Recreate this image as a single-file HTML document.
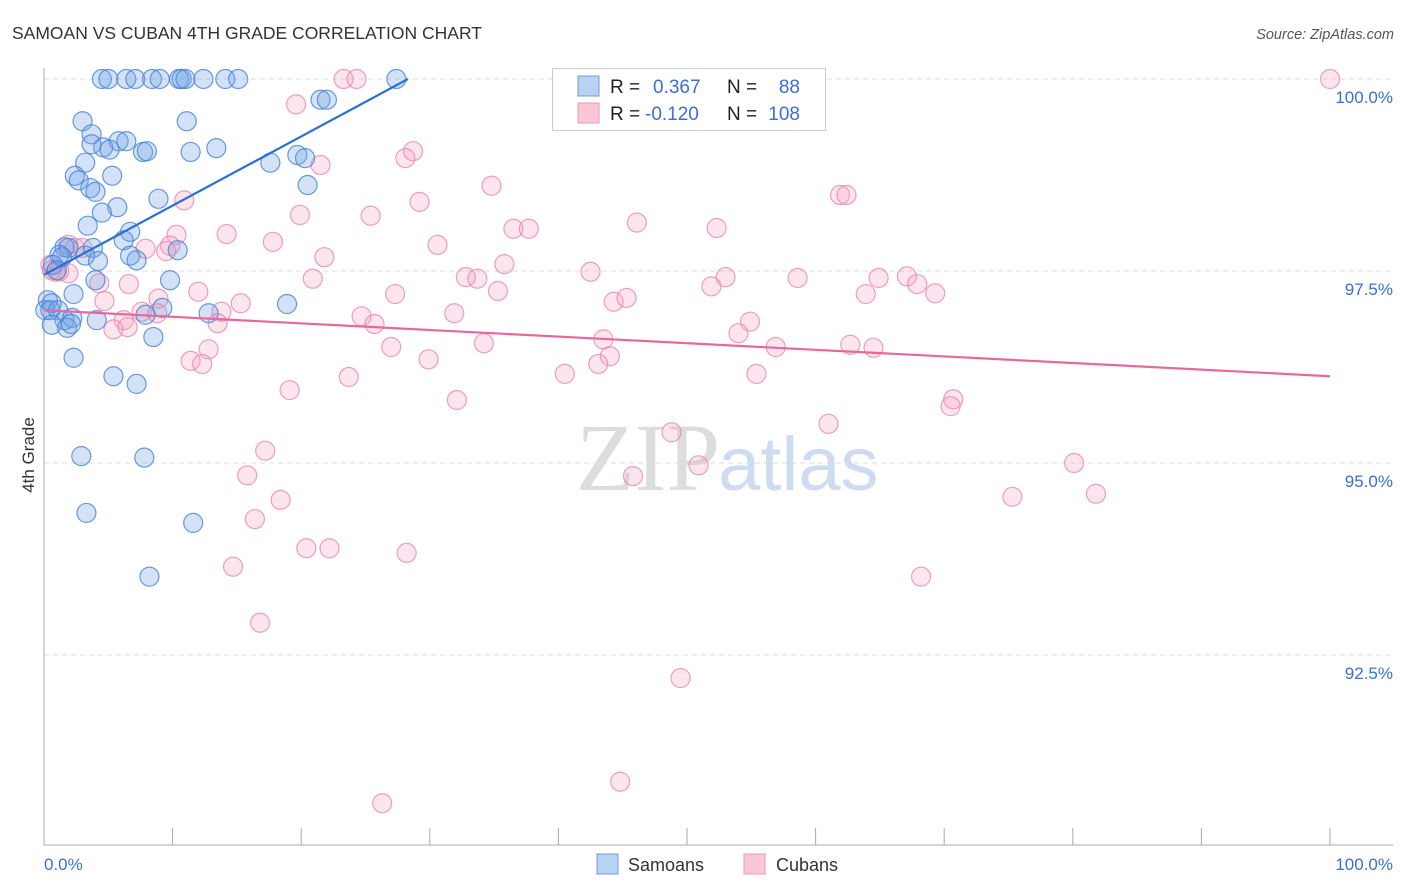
<!DOCTYPE html>
<html><head><meta charset="utf-8"><style>
body{margin:0;background:#fff;font-family:"Liberation Sans",sans-serif;}
svg{display:block}
</style></head><body>
<svg id="chart" width="1406" height="892" xmlns="http://www.w3.org/2000/svg">
<text x="12" y="39" font-size="17.5" fill="#333">SAMOAN VS CUBAN 4TH GRADE CORRELATION CHART</text>
<text x="1394" y="39" font-size="14.5" fill="#555" font-style="italic" text-anchor="end">Source: ZipAtlas.com</text>
<text x="720" y="490" font-size="96" fill="#ddd" text-anchor="end" font-family="Liberation Serif,serif">ZIP</text>
<text x="718" y="490" font-size="76" fill="#cfdcf0">atlas</text>
<g id="grid"></g>
<g id="axes"></g>
<g id="marks"></g>
<text transform="translate(34,455) rotate(-90)" font-size="17" fill="#333" text-anchor="middle">4th Grade</text>
<g>
<rect x="552.5" y="68.5" width="273" height="62" fill="#fff" stroke="#ccc"/>
<rect x="578" y="76" width="21" height="20" fill="#b9d2f3" stroke="#6f9be0"/>
<rect x="578" y="103" width="21" height="20" fill="#fbc6d5" stroke="#ec9ab4"/>
<text x="610" y="93" font-size="19" fill="#222">R =</text><text x="653" y="93" font-size="19" fill="#3b6fd4">0.367</text>
<text x="727" y="93" font-size="19" fill="#222">N =</text><text x="800" y="93" font-size="19" fill="#3b6fd4" text-anchor="end">88</text>
<text x="610" y="120" font-size="19" fill="#222">R =</text><text x="645" y="120" font-size="19" fill="#3b6fd4">-0.120</text>
<text x="727" y="120" font-size="19" fill="#222">N =</text><text x="800" y="120" font-size="19" fill="#3b6fd4" text-anchor="end">108</text>
</g>
<g>
<rect x="597" y="854" width="21" height="20" fill="#b9d2f3" stroke="#6f9be0"/>
<text x="628" y="871" font-size="18" fill="#333">Samoans</text>
<rect x="744" y="854" width="21" height="20" fill="#fbc6d5" stroke="#ec9ab4"/>
<text x="776" y="871" font-size="18" fill="#333">Cubans</text>
</g>
</svg>
<script>
const yTicks=[100,97.5,95,92.5];
const yTickLabels=["100.0%","97.5%","95.0%","92.5%"];
const xEndLabels=["0.0%","100.0%"];
const blueX=[4.5,5.0,6.4,7.1,8.4,9.0,10.5,10.7,11.0,12.4,14.1,15.1,27.4,21.5,22.0,3.0,11.1,3.7,5.8,6.4,4.6,5.1,3.7,7.7,8.0,11.4,13.4,19.7,20.3,17.6,3.2,2.4,2.7,5.3,3.6,4.0,20.5,8.9,5.7,4.5,3.4,6.7,6.2,1.6,1.9,3.8,10.4,1.2,1.4,3.2,4.2,6.7,7.2,0.7,1.0,9.8,4.0,2.3,0.3,0.6,18.9,0.1,0.5,1.1,1.6,2.2,4.1,9.2,7.9,12.8,0.6,1.8,2.1,8.5,2.3,5.4,7.2,2.9,7.8,3.3,11.6,8.2];
const blueY=[100,100,100,100,100,100,100,100,100,100,100,100,100,99.73,99.73,99.45,99.45,99.28,99.19,99.19,99.11,99.08,99.15,99.05,99.06,99.05,99.10,99.01,98.97,98.91,98.91,98.74,98.68,98.74,98.58,98.53,98.62,98.44,98.33,98.26,98.09,98.01,97.90,97.81,97.80,97.80,97.77,97.71,97.68,97.70,97.63,97.70,97.64,97.58,97.51,97.38,97.38,97.20,97.12,97.08,97.07,96.99,96.99,96.99,96.86,96.89,96.86,97.02,96.93,96.95,96.80,96.76,96.81,96.64,96.37,96.13,96.03,95.09,95.07,94.35,94.22,93.52];
const pinkX=[100,23.3,24.3,19.6,28.7,28.1,21.5,34.8,29.2,61.9,62.4,10.9,19.9,25.4,46.1,36.5,37.7,52.3,14.2,10.3,17.8,30.6,9.8,7.9,1.9,2.4,3.0,9.5,21.8,35.8,0.5,0.6,1.9,0.9,1.2,42.5,32.8,33.7,20.9,58.6,64.9,67.1,67.9,51.9,53.0,4.3,6.6,35.3,12.0,27.3,4.7,15.3,63.9,69.3,44.3,45.3,8.9,31.9,7.6,8.8,13.8,24.7,13.5,25.7,6.2,5.4,6.5,54.9,54.0,43.5,34.2,27.0,56.9,62.7,64.5,12.8,44.0,29.9,43.1,11.4,12.3,23.7,40.5,55.4,19.1,32.1,70.7,70.5,61.0,48.8,17.2,50.9,80.1,45.8,15.8,18.4,75.3,81.8,16.4,20.4,22.2,28.2,14.7,68.2,16.8,49.5,44.8,26.3];
const pinkY=[100,100,100,99.67,99.06,98.97,98.88,98.61,98.40,98.49,98.49,98.42,98.23,98.22,98.13,98.05,98.05,98.06,97.98,97.97,97.88,97.84,97.83,97.79,97.84,97.80,97.80,97.76,97.68,97.59,97.58,97.51,97.47,97.49,97.50,97.49,97.42,97.40,97.40,97.41,97.41,97.43,97.33,97.30,97.42,97.34,97.33,97.24,97.23,97.20,97.11,97.08,97.20,97.21,97.10,97.15,97.14,96.95,96.97,96.95,96.97,96.91,96.82,96.81,96.86,96.74,96.77,96.84,96.69,96.61,96.56,96.51,96.51,96.54,96.50,96.48,96.39,96.35,96.29,96.33,96.29,96.12,96.16,96.16,95.95,95.82,95.83,95.74,95.51,95.40,95.16,94.97,95.00,94.83,94.84,94.52,94.56,94.60,94.27,93.89,93.89,93.83,93.65,93.52,92.92,92.20,90.85,90.57];
const blueTrend=[[0,97.45],[28.3,100]];
const pinkTrend=[[0,96.99],[100,96.13]];

const NS="http://www.w3.org/2000/svg";
const X0=44,X1=1330,YTOP=79,PXPER=76.8;
const sx=v=>X0+(X1-X0)*v/100;
const sy=v=>YTOP+(100-v)*PXPER;
function mk(tag,attrs,parent){const e=document.createElementNS(NS,tag);for(const k in attrs)e.setAttribute(k,attrs[k]);parent.appendChild(e);return e;}
const grid=document.getElementById('grid'),axes=document.getElementById('axes'),marks=document.getElementById('marks');
yTicks.forEach((t,i)=>{
  const l=mk('line',{x1:X0,x2:1393,y1:sy(t),y2:sy(t),stroke:'#ddd','stroke-dasharray':'5,4'},grid);
  
  
  const tx=mk('text',{x:1393,y:sy(t)+24,'font-size':17,fill:'#3b6fd4','text-anchor':'end'},axes);
  tx.textContent=yTickLabels[i];
  
  
});
const ax=mk('line',{x1:X0,x2:1393,y1:845,y2:845,stroke:'#aaa'},axes);


const ay=mk('line',{x1:X0,x2:X0,y1:68,y2:845,stroke:'#aaa'},axes);


for(let k=0;k<=10;k++){
  const t=mk('line',{x1:sx(k*10),x2:sx(k*10),y1:828,y2:845,stroke:'#aaa'},axes);
  
  
}
const xl0=mk('text',{x:44,y:870,'font-size':17,fill:'#3b6fd4'},axes);
xl0.textContent=xEndLabels[0];


const xl1=mk('text',{x:1393,y:870,'font-size':17,fill:'#3b6fd4','text-anchor':'end'},axes);
xl1.textContent=xEndLabels[1];


pinkX.forEach((v,i)=>{
  const c=mk('circle',{cx:sx(v),cy:sy(pinkY[i]),r:9.5,fill:'rgba(246,160,190,0.28)',stroke:'rgba(232,130,165,0.75)','stroke-width':1.2},marks);
  
  
});
blueX.forEach((v,i)=>{
  const c=mk('circle',{cx:sx(v),cy:sy(blueY[i]),r:9.5,fill:'rgba(110,160,230,0.3)',stroke:'rgba(70,130,215,0.8)','stroke-width':1.2},marks);
  
  
});
const bt=mk('line',{x1:sx(blueTrend[0][0]),y1:sy(blueTrend[0][1]),x2:sx(blueTrend[1][0]),y2:sy(blueTrend[1][1]),stroke:'#2a6fd6','stroke-width':2.2},marks);


const pt=mk('line',{x1:sx(pinkTrend[0][0]),y1:sy(pinkTrend[0][1]),x2:sx(pinkTrend[1][0]),y2:sy(pinkTrend[1][1]),stroke:'#e8689a','stroke-width':2.2},marks);


</script>
</body></html>
